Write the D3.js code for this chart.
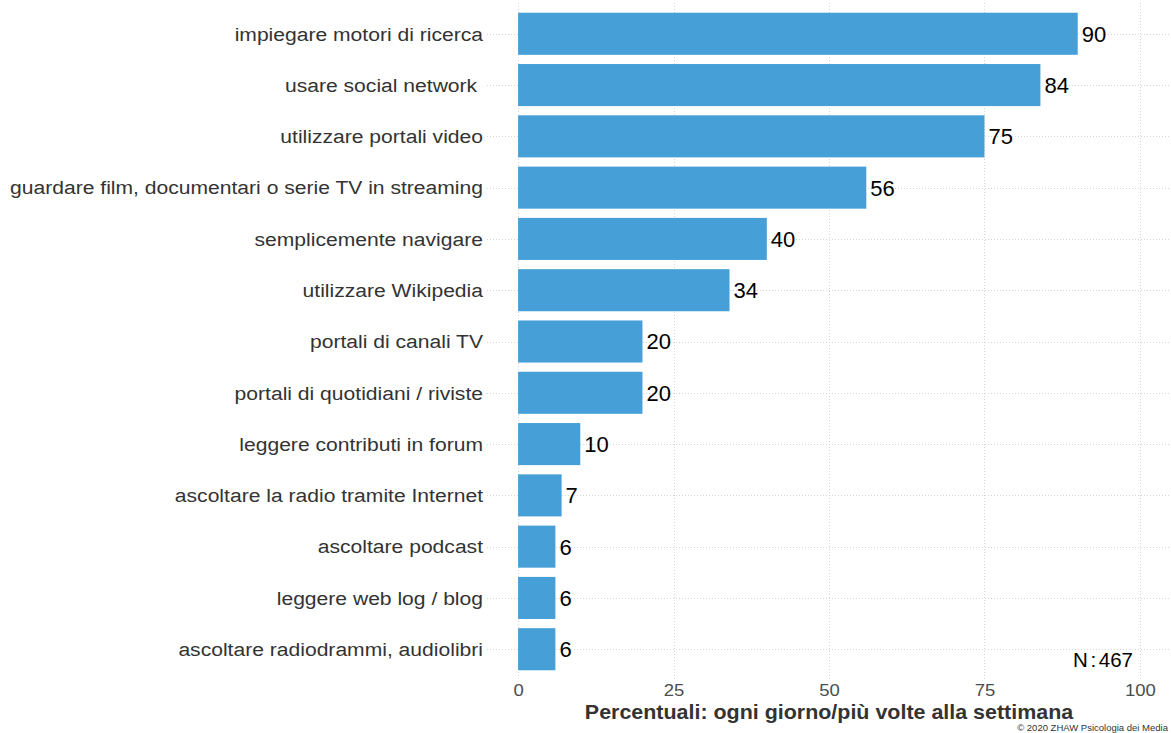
<!DOCTYPE html>
<html>
<head>
<meta charset="utf-8">
<script src="https://cdn.jsdelivr.net/npm/d3@7"></script>
<style>
  html, body { margin: 0; padding: 0; background: #fff; }
  svg { display: block; font-family: "Liberation Sans", Arial, sans-serif; }
</style>
</head>
<body>
<svg id="chart" width="1171" height="733"></svg>
<script>
// Activities, top to bottom
const categories = [
  "impiegare motori di ricerca",
  "usare social network ",
  "utilizzare portali video",
  "guardare film, documentari o serie TV in streaming",
  "semplicemente navigare",
  "utilizzare Wikipedia",
  "portali di canali TV",
  "portali di quotidiani / riviste",
  "leggere contributi in forum",
  "ascoltare la radio tramite Internet",
  "ascoltare podcast",
  "leggere web log / blog",
  "ascoltare radiodrammi, audiolibri"
];
// Share (%) using each activity every day / several times a week
const values = [90, 84, 75, 56, 40, 34, 20, 20, 10, 7, 6, 6, 6];
const xTicks = [0, 25, 50, 75, 100];
const xTitle = "Percentuali: ogni giorno/più volte alla settimana";
const sampleNote = "N : 467";
const credit = "© 2020 ZHAW Psicologia dei Media";

const svg = d3.select("#chart");

// panel bounds
const panel = { left: 487, right: 1171, top: 3, bottom: 680 };

const x = d3.scaleLinear()
  .domain([-5, 105])
  .range([panel.left, panel.right]);

// discrete axis with 0.6 step expansion on both sides
const n = categories.length;
const step = (panel.bottom - panel.top) / (n - 1 + 1.2);
const y = d3.scaleBand()
  .domain(categories)
  .range([panel.top + 0.1 * step, panel.bottom - 0.1 * step])
  .paddingInner(0.18)
  .paddingOuter(0.09);

const grid = svg.append("g").attr("class", "grid")
  .attr("stroke", "#d6d6d6")
  .attr("stroke-width", 1)
  .attr("stroke-dasharray", "1,2");

grid.selectAll("line.v").data(xTicks).join("line")
  .attr("class", "v")
  .attr("x1", d => Math.round(x(d)) + 0.5)
  .attr("x2", d => Math.round(x(d)) + 0.5)
  .attr("y1", panel.top)
  .attr("y2", panel.bottom);

grid.selectAll("line.h").data(categories).join("line")
  .attr("class", "h")
  .attr("x1", panel.left)
  .attr("x2", panel.right)
  .attr("y1", d => Math.round(y(d) + y.bandwidth() / 2) + 0.5)
  .attr("y2", d => Math.round(y(d) + y.bandwidth() / 2) + 0.5);

// bars
svg.append("g").selectAll("rect").data(categories).join("rect")
  .attr("x", x(0))
  .attr("y", d => y(d))
  .attr("width", (d, i) => x(values[i]) - x(0))
  .attr("height", y.bandwidth())
  .attr("fill", "#479FD7");

// value labels
svg.append("g").selectAll("text").data(categories).join("text")
  .attr("x", (d, i) => x(values[i]) + 4)
  .attr("y", d => y(d) + y.bandwidth() / 2)
  .attr("dy", "0.36em")
  .attr("font-size", 22)
  .attr("fill", "#000")
  .text((d, i) => values[i]);

// category axis (labels set slightly wide)
const yAxis = svg.append("g")
  .attr("transform", `translate(${panel.left - 4},0)`)
  .call(d3.axisLeft(y).tickSize(0).tickPadding(0));
yAxis.select(".domain").remove();
yAxis.selectAll("text")
  .attr("x", 0)
  .attr("font-size", 19)
  .attr("fill", "#333")
  .attr("font-family", "Liberation Sans, Arial, sans-serif")
  .attr("transform", "scale(1.11,1)")
  .style("white-space", "pre")
  .attr("dy", "0.36em");

// value axis
const xAxis = svg.append("g")
  .attr("transform", `translate(0,${panel.bottom})`)
  .call(d3.axisBottom(x).tickValues(xTicks).tickSize(0).tickPadding(4));
xAxis.select(".domain").remove();
xAxis.selectAll("text")
  .attr("font-size", 17)
  .attr("fill", "#4d4d4d")
  .attr("transform", "scale(1.09,1)")
  .attr("font-family", "Liberation Sans, Arial, sans-serif");

// axis title
svg.append("g")
  .attr("transform", `translate(${(panel.left + panel.right) / 2},719) scale(1.1,1)`)
  .append("text")
  .attr("text-anchor", "middle")
  .attr("font-size", 19.5)
  .attr("font-weight", "bold")
  .attr("fill", "#333")
  .text(xTitle);

// sample size
svg.append("text")
  .attr("x", 1133)
  .attr("y", 667)
  .attr("text-anchor", "end")
  .attr("font-size", 20.5)
  .attr("word-spacing", -3)
  .attr("fill", "#000")
  .text(sampleNote);

// credit line, bottom-right corner
svg.append("text")
  .attr("x", 1168)
  .attr("y", 731)
  .attr("text-anchor", "end")
  .attr("font-size", 9.5)
  .attr("fill", "#333")
  .text(credit);
</script>
</body>
</html>
